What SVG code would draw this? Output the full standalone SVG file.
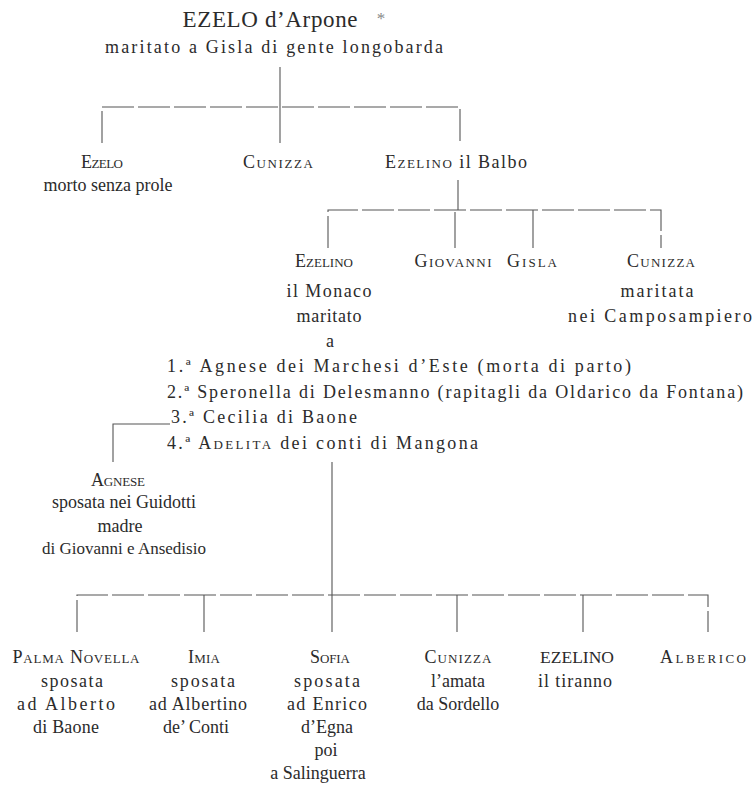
<svg xmlns="http://www.w3.org/2000/svg" width="754" height="788" viewBox="0 0 754 788">
<style>
.t{font-family:"Liberation Serif","Times New Roman",serif;font-size:18px;fill:#2b2b2b}
.m{text-anchor:middle}
.sc{font-size:13px}
.c{stroke:#555;stroke-width:1.1;fill:none}
.d{stroke-dasharray:32 4}
</style>
<rect width="754" height="788" fill="#fff"/>
<g id="connectors">
<line class="c" x1="280" y1="67" x2="280" y2="143"/>
<path class="c d" d="M102 143V107H460V143"/>
<line class="c" x1="458" y1="180" x2="458" y2="210"/>
<line class="c" x1="455" y1="212" x2="455" y2="248"/>
<path class="c d" d="M328 248V210H661V248"/>
<line class="c" x1="533" y1="210" x2="533" y2="248"/>
<path class="c" d="M170 424H113V462"/>
<line class="c" x1="332" y1="462" x2="332" y2="632"/>
<path class="c d" d="M77 632V595H708V632"/>
<line class="c" x1="204" y1="595" x2="204" y2="632"/>
<line class="c" x1="457" y1="595" x2="457" y2="632"/>
<line class="c" x1="583" y1="595" x2="583" y2="632"/>
</g>
<g id="ezelo-arpone" class="t m">
<text x="270" y="27" font-size="23" textLength="175" lengthAdjust="spacing">EZELO d’Arpone</text>
<text x="381" y="24" font-size="17" fill="#888">*</text>
<text x="274" y="53" textLength="338" lengthAdjust="spacing">maritato a Gisla di gente longobarda</text>
</g>
<g id="ezelo" class="t m">
<text x="102" y="168" textLength="42" lengthAdjust="spacing">E<tspan class="sc">ZELO</tspan></text>
<text x="108" y="191">morto senza prole</text>
</g>
<g id="cunizza-1" class="t m">
<text x="278" y="168" textLength="70" lengthAdjust="spacing">C<tspan class="sc">UNIZZA</tspan></text>
</g>
<g id="ezelino-balbo" class="t m">
<text x="456" y="168" textLength="142" lengthAdjust="spacing">E<tspan class="sc">ZELINO</tspan> il Balbo</text>
</g>
<g id="ezelino-monaco" class="t m">
<text x="324" y="267">E<tspan class="sc">ZELINO</tspan></text>
<text x="329" y="297" textLength="85" lengthAdjust="spacing">il Monaco</text>
<text x="329" y="322" textLength="65" lengthAdjust="spacing">maritato</text>
<text x="330" y="347">a</text>
</g>
<g id="giovanni" class="t m">
<text x="453" y="267" textLength="77" lengthAdjust="spacing">G<tspan class="sc">IOVANNI</tspan></text>
</g>
<g id="gisla" class="t m">
<text x="532" y="267" textLength="50" lengthAdjust="spacing">G<tspan class="sc">ISLA</tspan></text>
</g>
<g id="cunizza-2" class="t m">
<text x="661" y="267" textLength="68" lengthAdjust="spacing">C<tspan class="sc">UNIZZA</tspan></text>
<text x="657" y="297" textLength="73" lengthAdjust="spacing">maritata</text>
<text x="660" y="322" textLength="184" lengthAdjust="spacing">nei Camposampiero</text>
</g>
<g id="mogli" class="t">
<text x="167" y="372" textLength="464" lengthAdjust="spacing">1.ª Agnese dei Marchesi d’Este (morta di parto)</text>
<text x="167" y="398" textLength="576" lengthAdjust="spacing">2.ª Speronella di Delesmanno (rapitagli da Oldarico da Fontana)</text>
<text x="171" y="423" textLength="186" lengthAdjust="spacing">3.ª Cecilia di Baone</text>
<text x="167" y="449" textLength="311" lengthAdjust="spacing">4.ª A<tspan class="sc">DELITA</tspan> dei conti di Mangona</text>
</g>
<g id="agnese" class="t m">
<text x="118" y="486" textLength="54" lengthAdjust="spacing">A<tspan class="sc">GNESE</tspan></text>
<text x="124" y="508">sposata nei Guidotti</text>
<text x="120" y="532">madre</text>
<text x="124" y="554" font-size="17">di Giovanni e Ansedisio</text>
</g>
<g id="palma-novella" class="t m">
<text x="76" y="663" textLength="127" lengthAdjust="spacing">P<tspan class="sc">ALMA</tspan> N<tspan class="sc">OVELLA</tspan></text>
<text x="72" y="687" textLength="62" lengthAdjust="spacing">sposata</text>
<text x="66" y="710" textLength="98" lengthAdjust="spacing">ad Alberto</text>
<text x="66" y="733" textLength="66" lengthAdjust="spacing">di Baone</text>
</g>
<g id="imia" class="t m">
<text x="204" y="663" textLength="32" lengthAdjust="spacing">I<tspan class="sc">MIA</tspan></text>
<text x="203" y="687" textLength="64" lengthAdjust="spacing">sposata</text>
<text x="198" y="710" textLength="98" lengthAdjust="spacing">ad Albertino</text>
<text x="196" y="733">de’ Conti</text>
</g>
<g id="sofia" class="t m">
<text x="330" y="663" textLength="40" lengthAdjust="spacing">S<tspan class="sc">OFIA</tspan></text>
<text x="327" y="687" textLength="66" lengthAdjust="spacing">sposata</text>
<text x="327" y="710" textLength="80" lengthAdjust="spacing">ad Enrico</text>
<text x="327" y="733">d’Egna</text>
<text x="326" y="756">poi</text>
<text x="318" y="779">a Salinguerra</text>
</g>
<g id="cunizza-3" class="t m">
<text x="458" y="663" textLength="67" lengthAdjust="spacing">C<tspan class="sc">UNIZZA</tspan></text>
<text x="458" y="687">l’amata</text>
<text x="458" y="710">da Sordello</text>
</g>
<g id="ezelino-tiranno" class="t m">
<text x="577" y="663" font-size="17.5">EZELINO</text>
<text x="575" y="687" textLength="74" lengthAdjust="spacing">il tiranno</text>
</g>
<g id="alberico" class="t m">
<text x="703" y="663" textLength="86" lengthAdjust="spacing">A<tspan class="sc">LBERICO</tspan></text>
</g>
</svg>
